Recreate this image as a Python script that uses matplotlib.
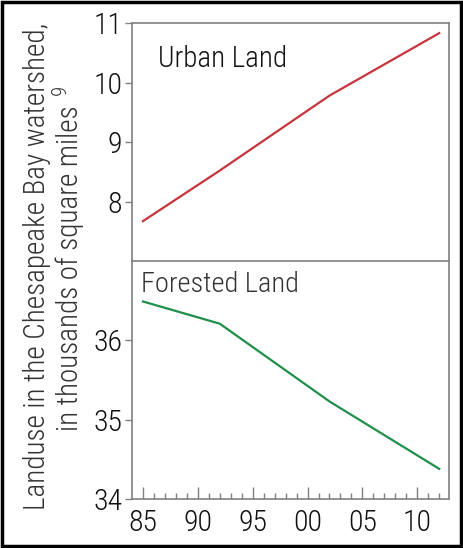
import numpy as np
import matplotlib.pyplot as plt
from matplotlib.patches import Rectangle
from matplotlib.ticker import FuncFormatter

plt.rcParams['font.family'] = ['Roboto Condensed', 'DejaVu Sans']
plt.rcParams['font.weight'] = 'light'

# datas
urban_years = [1985, 1992, 2002, 2012]
urban_land = [7.67, 8.52, 9.78, 10.83]
forest_years = [1985, 1992, 2002, 2012]
forest_land = [36.49, 36.21, 35.23, 34.38]

spine_color = '#808080'
text_color = '#111111'

fig = plt.figure(figsize=(4.63, 5.48), dpi=100)
ax_top = fig.add_axes([0.285, 0.5237, 0.685, 0.4343])
ax_bot = fig.add_axes([0.285, 0.0894, 0.685, 0.4343])

ax_top.plot(urban_years, urban_land, color='#c8343c', lw=1.6)
ax_bot.plot(forest_years, forest_land, color='#1f8f4a', lw=1.6)

# styling
for ax in (ax_top, ax_bot):
    ax.set_xlim(1984, 2012.9)
    for s in ax.spines.values():
        s.set_color(spine_color)
        s.set_linewidth(1.2)
    ax.tick_params(axis='y', direction='out', length=5, width=1, color=spine_color,
                   labelsize=21.5, labelcolor=text_color, pad=2)

ax_top.set_ylim(7, 11)
ax_top.set_yticks([8, 9, 10, 11])
ax_top.set_xticks([])
ax_top.spines['bottom'].set_visible(False)

ax_bot.set_ylim(34, 37)
ax_bot.set_yticks([34, 35, 36])
ax_bot.set_xticks([1985, 1990, 1995, 2000, 2005, 2010])
ax_bot.set_xticks(np.arange(1985, 2013, 1), minor=True)
ax_bot.xaxis.set_major_formatter(FuncFormatter(lambda v, p: f"{int(v) % 100:02d}"))
ax_bot.tick_params(axis='x', which='major', direction='in', length=9, width=1,
                   color=spine_color, labelsize=21.5, labelcolor=text_color, pad=7)
ax_bot.tick_params(axis='x', which='minor', direction='in', length=4, width=1,
                   color=spine_color)

fig.text(158 / 463, 1 - 67 / 548, 'Urban Land', fontsize=21, color=text_color,
         va='baseline', ha='left')
fig.text(141 / 463, 1 - 292 / 548, 'Forested Land', fontsize=20.5, color='#333333',
         va='baseline', ha='left')

# y label, two lines plus footnote mark
fig.text(45 / 463, 1 - 266 / 548, 'Landuse in the Chesapeake Bay watershed,',
         rotation=90, fontsize=21, color='#333333', ha='center', va='baseline',
         rotation_mode='anchor')
fig.text(78 / 463, 1 - 268 / 548, 'in thousands of square miles',
         rotation=90, fontsize=21, color='#333333', ha='center', va='baseline',
         rotation_mode='anchor')
fig.text(60 / 463, 1 - 90 / 548, '9', rotation=90, fontsize=15, color='#333333',
         ha='center', va='center')

# outer frame
fig.patches.append(Rectangle((0.004, 0.004), 0.992, 0.992, transform=fig.transFigure,
                             fill=False, edgecolor='black', linewidth=2.5))

plt.savefig('out.png', dpi=100)
plt.close('all')
